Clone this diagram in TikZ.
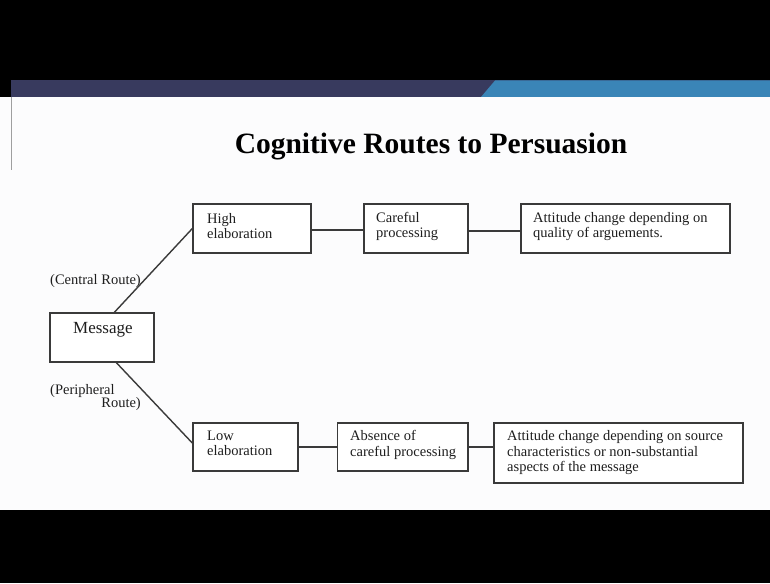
\documentclass[tikz,border=0pt]{standalone}
\usepackage{fontspec}
\setmainfont{Liberation Serif}
\usetikzlibrary{calc}
\definecolor{navyband}{HTML}{383A5E}
\definecolor{blueband}{HTML}{3A85B7}
\definecolor{slidebg}{HTML}{FCFCFD}
\definecolor{boxc}{HTML}{3A3A3A}
\definecolor{txtc}{HTML}{1E1E1E}
\begin{document}
\begin{tikzpicture}[x=1pt,y=-1pt,
  box/.style={draw=boxc, line width=1.3pt, fill=white, inner sep=0pt, rectangle},
  lbl/.style={text=txtc, font=\fontsize{14.5}{15.3}\selectfont, align=left, anchor=base west, inner sep=0pt},
  link/.style={draw=boxc, line width=1.4pt}]
\useasboundingbox (0,0) rectangle (770,583);
\fill[black] (0,0) rectangle (770,583);
\fill[slidebg] (0,97) rectangle (770,510);
\fill[navyband] (11,80.5) rectangle (770,97);
\fill[blueband] (495,80.5) -- (770,80.5) -- (770,97) -- (481,97) -- cycle;
\draw[gray!75, line width=1pt] (11.5,97) -- (11.5,170);

% title
\node[text=black, font=\bfseries\fontsize{29.5}{32}\selectfont, anchor=base, inner sep=0pt] (title) at (431,153) {Cognitive Routes to Persuasion};

% boxes
\node[box, minimum width=118pt, minimum height=49pt] (high) at (252,228.5) {};
\node[box, minimum width=104pt, minimum height=49pt] (careful) at (416,228.5) {};
\node[box, minimum width=209pt, minimum height=49pt] (att1) at (625.5,228.5) {};
\node[box, minimum width=104pt, minimum height=49pt] (msg) at (102,337.5) {};
\node[box, minimum width=105pt, minimum height=48pt] (low) at (245.5,447) {};
\node[box, minimum width=130.5pt, minimum height=48pt] (absence) at (402.75,447) {};
\node[box, minimum width=249pt, minimum height=60pt] (att2) at (618.5,453) {};

% box texts (anchor = baseline of the last line)
\node[lbl] (hight) at (207,238.3) {High\\elaboration};
\node[lbl] (carefult) at (376,237.8) {Careful\\processing};
\node[lbl] (att1t) at (533,237.8) {Attitude change depending on\\quality of arguements.};
\node[lbl, font=\fontsize{17}{19}\selectfont] (msgt) at (73,333) {Message};
\node[lbl] (lowt) at (207,455.3) {Low\\elaboration};
\node[lbl] (absencet) at (350,456) {Absence of\\careful processing};
\node[lbl] (att2t) at (507,471.3) {Attitude change depending on source\\characteristics or non-substantial\\aspects of the message};

% route labels
\node[lbl] (central) at (50,284) {(Central Route)};
\node[lbl] (periph) at (50,394) {(Peripheral};
\node[lbl, anchor=base east] (periph2) at (141,407.5) {Route)};

% connectors
\coordinate (mtop) at ($(msg.north west)+(65,0)$);
\coordinate (mbot) at ($(msg.south west)+(67,0)$);
\coordinate (lowin) at ($(low.north west)!0.42!(low.south west)$);
\draw[link] (mtop) -- (high.west);
\draw[link] (mbot) -- (lowin);
\draw[link] ($(high.east)+(0,1.5)$) -- ($(careful.west)+(0,1.5)$);
\draw[link] ($(careful.east)+(0,2.5)$) -- ($(att1.west)+(0,2.5)$);
\draw[link] (low.east) -- (absence.west);
\draw[link] (absence.east) -- (absence.east -| att2.west);
\end{tikzpicture}
\end{document}
